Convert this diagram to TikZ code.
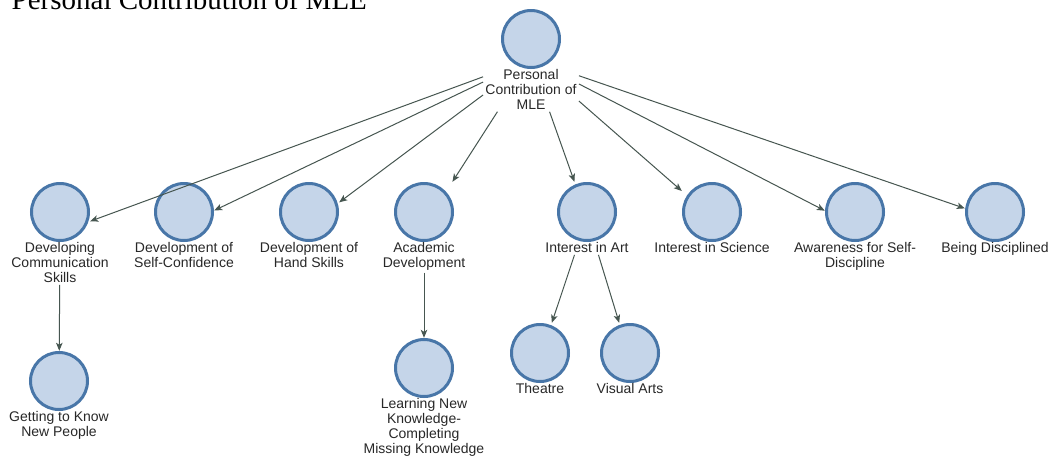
\documentclass[tikz,border=0pt]{standalone}
\usepackage{fontspec}
\newfontfamily\labfont{Liberation Sans}
\newfontfamily\ttlfont{Liberation Serif}
\usetikzlibrary{arrows.meta,fit}
\definecolor{circfill}{RGB}{197,213,233}
\definecolor{circline}{RGB}{72,118,168}
\definecolor{edgecol}{RGB}{70,86,80}
\definecolor{labcol}{RGB}{40,40,40}
\tikzset{
  circ/.style={circle,minimum size=57pt,inner sep=0pt,line width=3pt,draw=circline,fill=circfill},
  lab/.style={font=\fontsize{14}{15}\selectfont\labfont,text=labcol,align=center,inner sep=0pt,anchor=north},
  fullbox/.style={inner sep=2pt},
  hitbox/.style={inner sep=0pt},
  edge/.style={draw=edgecol,line width=1pt,-{Stealth[length=8pt,width=6.5pt,inset=2pt]}},
  ttl/.style={font=\fontsize{29}{30}\selectfont\ttlfont,text=black,anchor=base west,inner sep=0pt}
}
\begin{document}
\begin{tikzpicture}[x=1pt,y=-1pt]
\fill[white] (0,0) rectangle (1048,461);
\useasboundingbox (0,0) rectangle (1048,461);
\node[ttl] (title) at (11.5,9) {Personal Contribution of MLE};
% nodes
\node[circ] (c0) at (531,39) {};
\node[lab] (l0) at (c0.south) {Personal\\Contribution of\\MLE};
\node[circ] (c1) at (60,212) {};
\node[lab] (l1) at (c1.south) {Developing\\Communication\\Skills};
\node[circ] (c2) at (184,212) {};
\node[lab] (l2) at (c2.south) {Development of\\Self-Confidence};
\node[circ] (c3) at (309,212) {};
\node[lab] (l3) at (c3.south) {Development of\\Hand Skills};
\node[circ] (c4) at (424,212) {};
\node[lab] (l4) at (c4.south) {Academic\\Development};
\node[circ] (c5) at (587,212) {};
\node[lab] (l5) at (c5.south) {Interest in Art};
\node[circ] (c6) at (712,212) {};
\node[lab] (l6) at (c6.south) {Interest in Science};
\node[circ] (c7) at (855,212) {};
\node[lab] (l7) at (c7.south) {Awareness for Self-\\Discipline};
\node[circ] (c8) at (995,212) {};
\node[lab] (l8) at (c8.south) {Being Disciplined};
\node[circ] (c9) at (59,381) {};
\node[lab] (l9) at (c9.south) {Getting to Know\\New People};
\node[circ] (c10) at (424,368) {};
\node[lab] (l10) at (c10.south) {Learning New\\Knowledge-\\Completing\\Missing Knowledge};
\node[circ] (c11) at (540,353) {};
\node[lab] (l11) at (c11.south) {Theatre};
\node[circ] (c12) at (630,353) {};
\node[lab] (l12) at (c12.south) {Visual Arts};
% boxes for edge clipping
\foreach \i in {0,1,4,5}{
  \node[fullbox,fit=(c\i)(l\i)] (f\i) {};
}
\foreach \i in {1,2,3,4,5,6,7,8,9,10,11,12}{
  \node[hitbox,fit=(c\i)(l\i.south)] (h\i) {};
}
% edges
\draw[edge] (f0) -- (h1);
\draw[edge] (f0) -- (h2);
\draw[edge] (f0) -- (h3);
\draw[edge] (f0) -- (h4);
\draw[edge] (f0) -- (h5);
\draw[edge] (f0) -- (h6);
\draw[edge] (f0) -- (h7);
\draw[edge] (f0) -- (h8);
\draw[edge] (f1) -- (h9);
\draw[edge] (f4) -- (h10);
\draw[edge] (f5) -- (h11);
\draw[edge] (f5) -- (h12);
\end{tikzpicture}
\end{document}
